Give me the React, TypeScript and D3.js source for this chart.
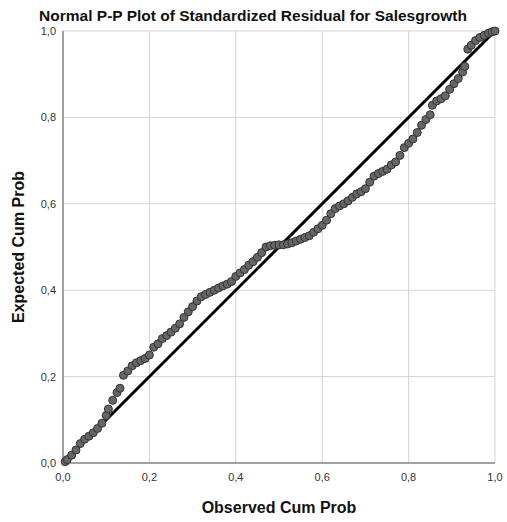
import React from "react";
import * as d3 from "d3";

const observed: number[] = [
  0.005, 0.01, 0.02, 0.03, 0.04, 0.05, 0.06, 0.07, 0.08, 0.09, 0.1, 0.105, 0.115, 0.125, 0.132,
  0.14, 0.15, 0.16, 0.17, 0.18, 0.19, 0.2, 0.21, 0.22, 0.23, 0.24, 0.25, 0.26, 0.27, 0.28, 0.29,
  0.3, 0.31, 0.32, 0.33, 0.34, 0.35, 0.36, 0.37, 0.38, 0.39, 0.4, 0.41, 0.42, 0.43, 0.44, 0.45,
  0.46, 0.47, 0.48, 0.49, 0.5, 0.51, 0.52, 0.53, 0.54, 0.55, 0.56, 0.57, 0.58, 0.59, 0.6, 0.61,
  0.62, 0.63, 0.64, 0.65, 0.66, 0.67, 0.68, 0.69, 0.7, 0.71, 0.72, 0.73, 0.74, 0.75, 0.76, 0.77,
  0.78, 0.79, 0.8, 0.81, 0.82, 0.83, 0.84, 0.85, 0.855, 0.865, 0.875, 0.885, 0.895, 0.905, 0.915,
  0.925, 0.93, 0.937, 0.945, 0.955, 0.965, 0.975, 0.985, 0.993, 1.0,
];
const expected: number[] = [
  0.003, 0.008, 0.018, 0.03, 0.045, 0.055, 0.062, 0.07, 0.08, 0.092, 0.11, 0.125, 0.145, 0.163, 0.173,
  0.203, 0.213, 0.225, 0.232, 0.237, 0.242, 0.25, 0.268, 0.276, 0.288, 0.295, 0.303, 0.312, 0.322, 0.337, 0.35,
  0.362, 0.375, 0.385, 0.39, 0.395, 0.4, 0.405, 0.41, 0.414, 0.42, 0.432, 0.44, 0.448, 0.458, 0.466, 0.476,
  0.487, 0.5, 0.503, 0.504, 0.505, 0.505, 0.507, 0.51, 0.514, 0.518, 0.522, 0.526, 0.534, 0.542, 0.55, 0.562,
  0.577, 0.589, 0.595, 0.6, 0.607, 0.615, 0.623, 0.628, 0.635, 0.65, 0.664, 0.67, 0.675, 0.68, 0.69, 0.697,
  0.712, 0.73, 0.74, 0.75, 0.765, 0.782, 0.795, 0.806, 0.828, 0.838, 0.843, 0.85, 0.865, 0.878, 0.89,
  0.905, 0.918, 0.958, 0.967, 0.978, 0.985, 0.99, 0.995, 0.998, 1.0,
];
const ticks: number[] = [0, 0.2, 0.4, 0.6, 0.8, 1.0];
const tickLabels: string[] = ["0,0", "0,2", "0,4", "0,6", "0,8", "1,0"];
const title = "Normal P-P Plot of Standardized Residual for Salesgrowth";
const xTitle = "Observed Cum Prob";
const yTitle = "Expected Cum Prob";

export default function App() {
  const W = 507, H = 522;
  const left = 63, right = 495, top = 31, bottom = 463;
  const x = d3.scaleLinear().domain([0, 1]).range([left, right]);
  const y = d3.scaleLinear().domain([0, 1]).range([bottom, top]);
  const font = "'Liberation Sans', Arial, sans-serif";
  const pts = observed.map((o, i) => [o, expected[i]]);
  return (
    <svg width={W} height={H} style={{ position: "absolute", left: 0, top: 0 }}>
      <rect width={W} height={H} fill="#fff" />
      <text x={253} y={21} textAnchor="middle" fontFamily={font} fontWeight="bold" fontSize={15.5} fill="#111">
        {title}
      </text>
      {ticks.map((t, i) => (
        <g key={i}>
          <line x1={x(t)} x2={x(t)} y1={top} y2={bottom} stroke="#d4d4d4" strokeWidth={1} />
          <line x1={left} x2={right} y1={y(t)} y2={y(t)} stroke="#d4d4d4" strokeWidth={1} />
          <text x={x(t)} y={481} textAnchor="middle" fontFamily={font} fontSize={11} fill="#333">
            {tickLabels[i]}
          </text>
          <text x={56} y={y(t) + 4} textAnchor="end" fontFamily={font} fontSize={11} fill="#333">
            {tickLabels[i]}
          </text>
        </g>
      ))}
      <line x1={left} x2={left} y1={top} y2={bottom} stroke="#888" strokeWidth={1.5} />
      <line x1={left} x2={right} y1={bottom} y2={bottom} stroke="#888" strokeWidth={1.5} />
      <line x1={x(0)} y1={y(0)} x2={x(1)} y2={y(1)} stroke="#000" strokeWidth={3} />
      {pts.map((p, i) => (
        <circle key={i} cx={x(p[0])} cy={y(p[1])} r={4} fill="#666" stroke="#333" strokeWidth={1} />
      ))}
      <text x={279} y={513} textAnchor="middle" fontFamily={font} fontWeight="bold" fontSize={16} fill="#111">
        {xTitle}
      </text>
      <text
        transform={`translate(24,${(top + bottom) / 2}) rotate(-90)`}
        textAnchor="middle"
        fontFamily={font}
        fontWeight="bold"
        fontSize={16}
        fill="#111"
      >
        {yTitle}
      </text>
    </svg>
  );
}
